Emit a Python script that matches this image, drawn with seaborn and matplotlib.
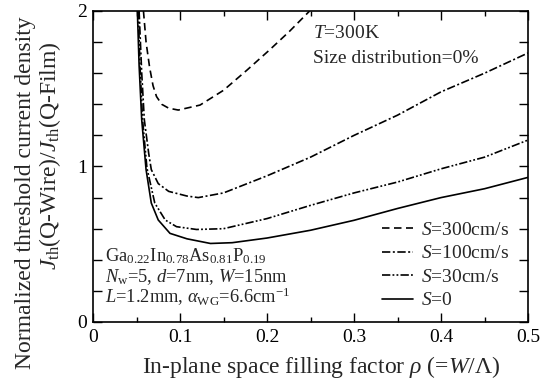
import numpy as np
import pandas as pd
import matplotlib
matplotlib.use("Agg")
import matplotlib.pyplot as plt
import seaborn as sns

# ---- data ----
rho_s0 = [0.051, 0.053, 0.056, 0.061, 0.067, 0.075, 0.0885, 0.108, 0.135, 0.16, 0.2, 0.25, 0.3, 0.35, 0.4, 0.45, 0.5]
j_s0 = [2.0, 1.65, 1.30, 0.98, 0.765, 0.656, 0.57, 0.535, 0.505, 0.51, 0.54, 0.59, 0.654, 0.73, 0.80, 0.857, 0.93]

rho_s30 = [0.052, 0.054, 0.057, 0.062, 0.071, 0.083, 0.096, 0.119, 0.15, 0.2, 0.25, 0.3, 0.35, 0.4, 0.45, 0.5]
j_s30 = [2.0, 1.65, 1.30, 0.99, 0.765, 0.656, 0.613, 0.595, 0.60, 0.665, 0.75, 0.83, 0.90, 0.985, 1.06, 1.17]

rho_s100 = [0.053, 0.056, 0.059, 0.064, 0.067, 0.075, 0.087, 0.108, 0.121, 0.15, 0.2, 0.25, 0.3, 0.35, 0.4, 0.45, 0.5]
j_s100 = [2.0, 1.6, 1.3, 1.085, 0.98, 0.89, 0.84, 0.81, 0.80, 0.83, 0.94, 1.06, 1.20, 1.33, 1.48, 1.60, 1.73]

rho_s300 = [0.058, 0.061, 0.065, 0.069, 0.073, 0.079, 0.087, 0.098, 0.123, 0.150, 0.177, 0.203, 0.226, 0.249]
j_s300 = [2.0, 1.80, 1.64, 1.52, 1.45, 1.40, 1.375, 1.363, 1.395, 1.49, 1.62, 1.75, 1.87, 2.0]

series_labels = [r"$S$=300cm/s", r"$S$=100cm/s", r"$S$=30cm/s", r"$S$=0"]
x_ticks = [0, 0.1, 0.2, 0.3, 0.4, 0.5]
x_tick_labels = ["0", "0.1", "0.2", "0.3", "0.4", "0.5"]

frames = []
for lab, xs, ys in zip(series_labels,
                       [rho_s300, rho_s100, rho_s30, rho_s0],
                       [j_s300, j_s100, j_s30, j_s0]):
    frames.append(pd.DataFrame({"rho": xs, "ratio": ys, "S": lab}))
df = pd.concat(frames, ignore_index=True)

sns.set_style("ticks")
plt.rcParams["font.family"] = ["Liberation Serif", "DejaVu Serif"]
plt.rcParams["mathtext.fontset"] = "custom"
plt.rcParams["mathtext.rm"] = "Liberation Serif"
plt.rcParams["mathtext.it"] = "Liberation Serif:italic"
plt.rcParams["mathtext.bf"] = "Liberation Serif:bold"

fig = plt.figure(figsize=(5.42, 3.85), dpi=100)
ax = fig.add_axes([93 / 542, 1 - 322 / 385, 435 / 542, 311 / 385])

dashes = {
    series_labels[0]: (4.5, 2.7),
    series_labels[1]: (5, 1.5, 1.2, 1.5),
    series_labels[2]: (5, 1.3, 1.1, 1.3, 1.1, 1.3),
    series_labels[3]: "",
}
sns.lineplot(data=df, x="rho", y="ratio", style="S", style_order=series_labels,
             dashes=dashes, color="black", sort=False, estimator=None,
             linewidth=1.2, ax=ax)

ax.set_xlim(0, 0.5)
ax.set_ylim(0, 2)
ax.set_xticks(x_ticks)
ax.set_xticklabels(x_tick_labels)
ax.set_xticks(np.arange(0.05, 0.5, 0.1), minor=True)
yt = np.round(np.arange(0, 2.01, 0.2), 2)
ax.set_yticks(yt)
ax.set_yticklabels(["0" if v == 0 else "1" if v == 1 else "2" if v == 2 else "" for v in yt])
ax.tick_params(which="both", direction="in", top=True, right=True, width=1.0,
               labelsize=14, colors="black")
ax.tick_params(which="major", length=6.5, pad=4)
ax.tick_params(axis="x", which="major", pad=5)
ax.tick_params(which="minor", length=3.6)
for sp in ax.spines.values():
    sp.set_linewidth(1.2)
    sp.set_color("black")
ax.set_xlabel("")
ax.set_ylabel("")

handles, labels = ax.get_legend_handles_labels()
hl = [(h, l) for h, l in zip(handles, labels) if l in series_labels]
leg = ax.legend([h for h, _ in hl], [l for _, l in hl], loc="lower right",
                bbox_to_anchor=(0.985, 0.0), frameon=False, fontsize=14,
                handlelength=1.6, handletextpad=0.4, labelspacing=0.3,
                borderpad=0.15)

def fx(px):
    return px / 542

def fy(py):
    return 1 - py / 385

fs = 14
fs2 = 13.3
fig.text(fx(313), fy(38), r"$T$=300K", fontsize=fs, va="baseline", ha="left")
fig.text(fx(313), fy(63), "Size distribution=0%", fontsize=fs, va="baseline", ha="left")
fig.text(fx(105), fy(261), r"Ga$_{0.22}$In$_{0.78}$As$_{0.81}$P$_{0.19}$", fontsize=fs2,
         va="baseline", ha="left")
fig.text(fx(105), fy(282), r"$N_\mathrm{w}$=5, $d$=7nm, $W$=15nm", fontsize=fs2,
         va="baseline", ha="left")
fig.text(fx(105), fy(303), r"$L$=1.2mm, $\mathit{α}_\mathrm{WG}$=6.6cm$^{-1}$", fontsize=fs2,
         va="baseline", ha="left")

fig.text(fx(26), fy(193), "Normalized threshold current density", fontsize=17,
         rotation=90, ha="center", va="center")
fig.text(fx(50), fy(156), r"$J_\mathrm{th}$(Q-Wire)/$J_\mathrm{th}$(Q-Film)", fontsize=17,
         rotation=90, ha="center", va="center")
fig.text(fx(321), fy(367), r"In-plane space filling factor $\mathit{ρ}$ (=$W$/$\mathit{Λ}$)",
         fontsize=17, ha="center", va="center")

fig.savefig("out.png", dpi=100)
